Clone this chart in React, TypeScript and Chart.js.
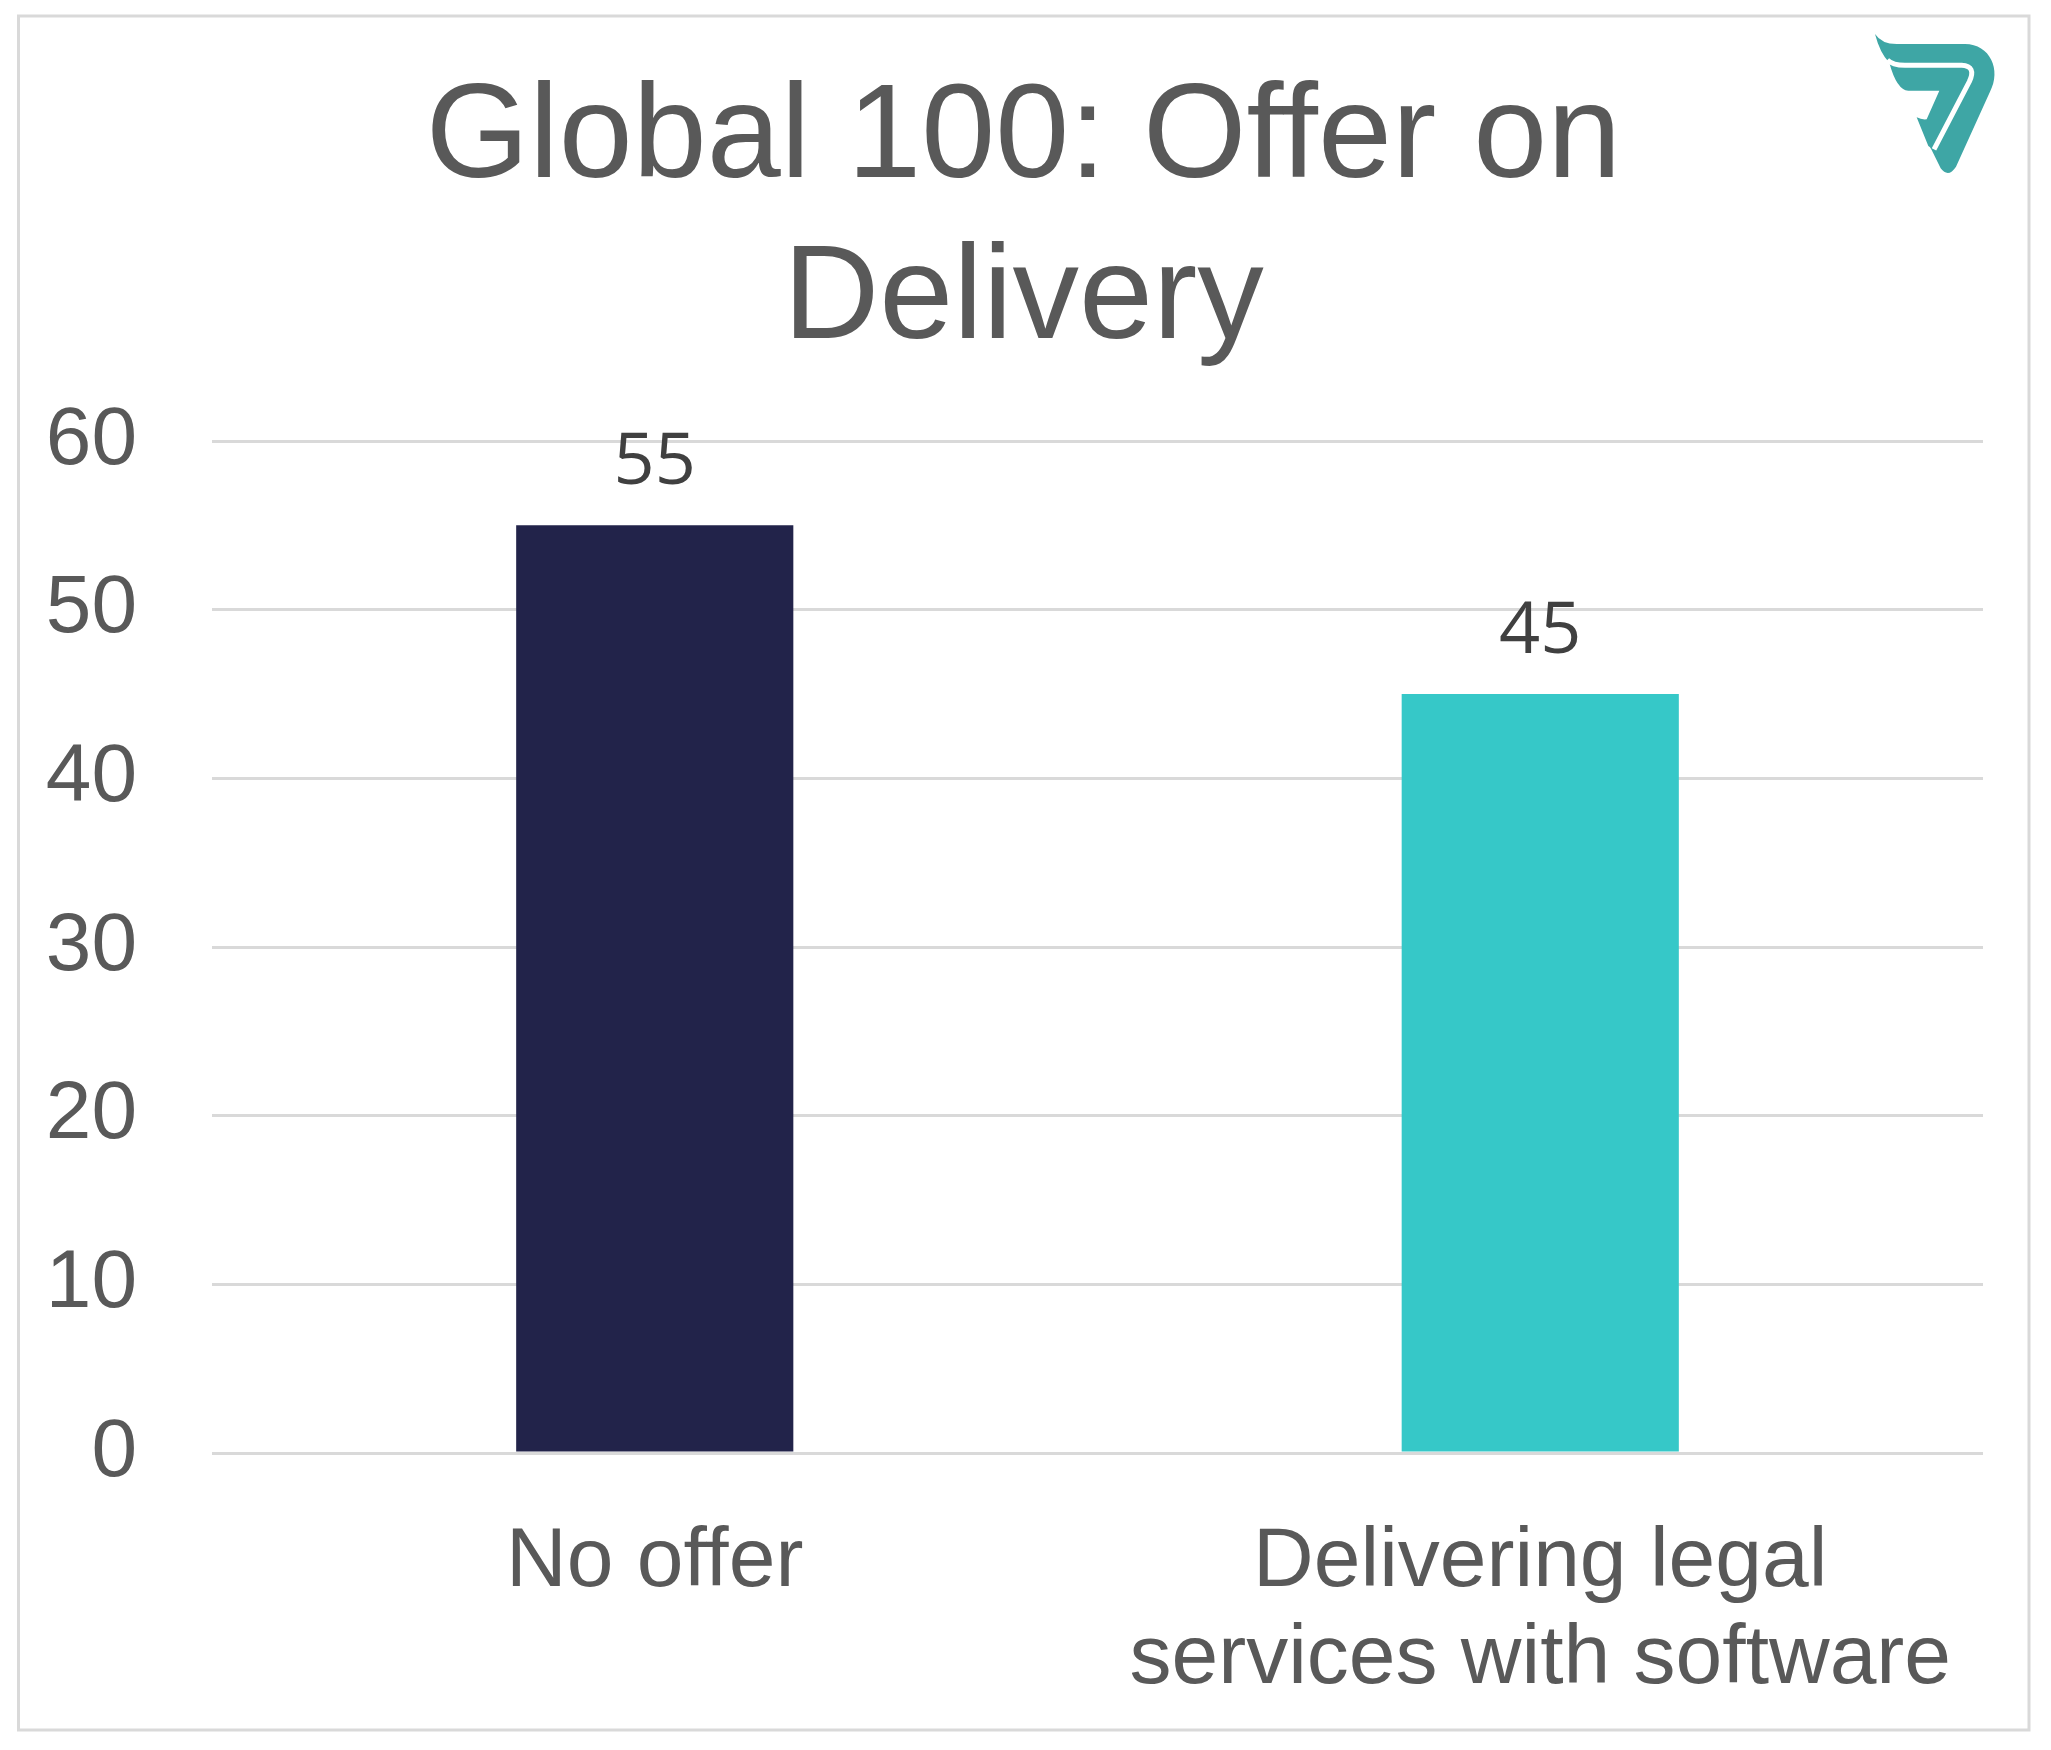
import React, { useEffect, useRef } from 'react';
import { Chart, registerables } from 'chart.js';

Chart.register(...registerables);

const titleLines = ['Global 100: Offer on', 'Delivery'];
const categories: (string | string[])[] = ['No offer', ['Delivering legal', 'services with software']];
const values = [55, 45];
const barColors = ['#22234A', '#36C8C8'];
const yMin = 0;
const yMax = 60;
const yStep = 10;

const W = 2051;
const H = 1750;
const FONT = '"Liberation Sans", Arial, Helvetica, sans-serif';
const TEXT = '#595959';

export default function App() {
  const ref = useRef<HTMLCanvasElement>(null);

  useEffect(() => {
    const canvas = ref.current!;

    const framePlugin = {
      id: 'frame',
      beforeDraw(chart: any) {
        const { ctx } = chart;
        ctx.save();
        ctx.fillStyle = '#ffffff';
        ctx.fillRect(0, 0, chart.width, chart.height);
        ctx.strokeStyle = '#d9d9d9';
        ctx.lineWidth = 3;
        ctx.strokeRect(18.5, 16, 2010.5, 1714);
        ctx.restore();
      },
    };

    const valuePlugin = {
      id: 'valueLabels',
      afterDatasetsDraw(chart: any) {
        const { ctx } = chart;
        const meta = chart.getDatasetMeta(0);
        ctx.save();
        ctx.font = '72px "Open Sans", "Noto Sans", sans-serif';
        ctx.fillStyle = '#404040';
        ctx.textAlign = 'center';
        ctx.textBaseline = 'alphabetic';
        meta.data.forEach((bar: any, i: number) => {
          ctx.fillText(String(values[i]), bar.x, bar.y - 41);
        });
        ctx.restore();
      },
    };

    const logoPlugin = {
      id: 'logo',
      afterDraw(chart: any) {
        const { ctx } = chart;
        ctx.save();
        ctx.translate(1850, 20);
        ctx.scale(1 / 3, 1 / 3);
        ctx.fillStyle = '#3EA6A5';
        ctx.beginPath();
        ctx.moveTo(75, 42);
        ctx.quadraticCurveTo(95, 72, 140, 72);
        ctx.lineTo(345, 72);
        ctx.bezierCurveTo(420, 72, 455, 150, 420, 215);
        ctx.lineTo(318, 440);
        ctx.quadraticCurveTo(295, 475, 272, 445);
        ctx.lineTo(245, 390);
        ctx.quadraticCurveTo(240, 380, 235, 378);
        ctx.lineTo(200, 292);
        ctx.quadraticCurveTo(215, 300, 230, 298);
        ctx.lineTo(268, 212);
        ctx.lineTo(175, 212);
        ctx.quadraticCurveTo(140, 210, 118, 128);
        ctx.quadraticCurveTo(90, 100, 75, 42);
        ctx.closePath();
        ctx.fill();
        ctx.strokeStyle = '#ffffff';
        ctx.lineWidth = 15;
        ctx.lineJoin = 'round';
        ctx.beginPath();
        ctx.moveTo(112, 120);
        ctx.quadraticCurveTo(128, 136, 165, 136);
        ctx.lineTo(335, 136);
        ctx.quadraticCurveTo(380, 138, 358, 185);
        ctx.lineTo(252, 388);
        ctx.stroke();
        ctx.restore();
      },
    };

    const chart = new Chart(canvas, {
      type: 'bar',
      data: {
        labels: categories as any,
        datasets: [
          {
            data: values,
            backgroundColor: barColors,
            borderWidth: 0,
            categoryPercentage: 1,
            barPercentage: 0.313,
          },
        ],
      },
      options: {
        responsive: false,
        animation: false,
        devicePixelRatio: 1,
        layout: { padding: { left: 30, right: 34, top: 0, bottom: 0 } },
        plugins: {
          legend: { display: false },
          tooltip: { enabled: false },
          title: {
            display: true,
            text: titleLines,
            color: TEXT,
            font: { family: FONT, size: 133, weight: 'normal', lineHeight: 161 / 133 },
            padding: { top: 60, bottom: 59 },
          },
        },
        scales: {
          x: {
            grid: { display: false, drawTicks: false },
            border: { display: false },
            ticks: {
              color: TEXT,
              font: { family: FONT, size: 84, lineHeight: 97 / 84 },
              padding: 61,
              maxRotation: 0,
              autoSkip: false,
            },
            afterFit: (s: any) => {
              s.height = 297;
            },
          },
          y: {
            min: yMin,
            max: yMax,
            ticks: {
              stepSize: yStep,
              color: TEXT,
              font: { family: FONT, size: 82 },
              padding: 75,
            },
            grid: { color: '#d9d9d9', lineWidth: 3, drawTicks: false },
            border: { display: false },
            afterFit: (s: any) => {
              s.width = 182;
            },
          },
          yRight: {
            type: 'linear',
            position: 'right',
            display: true,
            min: yMin,
            max: yMax,
            grid: { display: false, drawTicks: false },
            border: { display: false },
            ticks: { display: false },
            afterFit: (s: any) => {
              s.width = 34;
            },
          },
        },
      },
      plugins: [framePlugin, valuePlugin, logoPlugin],
    } as any);

    return () => chart.destroy();
  }, []);

  return (
    <div style={{ position: 'absolute', left: 0, top: 0, width: W, height: H }}>
      <canvas ref={ref} width={W} height={H} style={{ display: 'block', width: W, height: H }} />
    </div>
  );
}
